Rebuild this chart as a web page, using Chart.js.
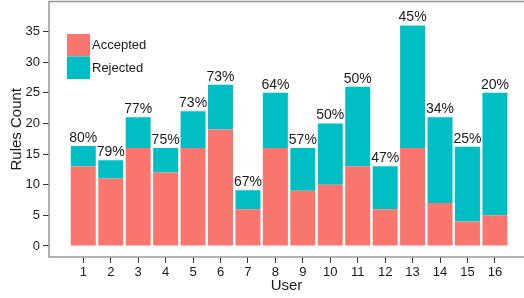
<!DOCTYPE html>
<html>
<head>
<meta charset="utf-8">
<script src="https://cdn.jsdelivr.net/npm/chart.js@4"></script>
<style>
  html, body { margin: 0; padding: 0; background: #fff; }
  #wrap { width: 524px; height: 298px; }
</style>
</head>
<body>
<div id="wrap"><canvas id="rulesChart"></canvas></div>
<script>
const users = [1, 2, 3, 4, 5, 6, 7, 8, 9, 10, 11, 12, 13, 14, 15, 16];
const accepted = [13, 11, 16, 12, 16, 19, 6, 16, 9, 10, 13, 6, 16, 7, 4, 5];
const rejected = [3.3, 3, 5, 4, 6, 7.3, 3.1, 9, 7, 10, 13, 7, 20, 14, 12.2, 20];
const pctLabels = ["80%", "79%", "77%", "75%", "73%", "73%", "67%", "64%", "57%", "50%", "50%", "47%", "45%", "34%", "25%", "20%"];
const yTicks = [0, 5, 10, 15, 20, 25, 30, 35];

const FONT = "'Liberation Sans', Arial, sans-serif";
const TEXT = "#1a1a1a";

// panel border + legend inside the panel + percent labels on top of bars
const decorations = {
  id: "decorations",
  afterDatasetsDraw(chart) {
    const ctx = chart.ctx;
    const a = chart.chartArea;
    ctx.save();

    // percent labels
    const top = chart.getDatasetMeta(1).data;
    ctx.font = "14px " + FONT;
    ctx.fillStyle = TEXT;
    ctx.textAlign = "center";
    ctx.textBaseline = "alphabetic";
    top.forEach((bar, i) => {
      ctx.fillText(pctLabels[i], bar.x, bar.y - 4);
    });

    // legend
    ctx.textAlign = "left";
    ctx.textBaseline = "middle";
    ctx.font = "13px " + FONT;
    chart.data.datasets.forEach((ds, i) => {
      const y = 34 + i * 22.5;
      ctx.fillStyle = ds.backgroundColor;
      ctx.fillRect(67, y, 23, 22.5);
      ctx.fillStyle = TEXT;
      ctx.fillText(ds.label, 92, y + 11.5);
    });

    // border
    ctx.strokeStyle = "#999";
    ctx.lineWidth = 1.5;
    ctx.beginPath();
    ctx.moveTo(a.right, a.top);
    ctx.lineTo(a.left, a.top);
    ctx.lineTo(a.left, a.bottom);
    ctx.lineTo(a.right, a.bottom);
    ctx.stroke();
    ctx.restore();
  }
};

const noPad = s => {
  s.paddingTop = 0; s.paddingBottom = 0; s.paddingLeft = 0; s.paddingRight = 0;
};

new Chart(document.getElementById("rulesChart"), {
  type: "bar",
  data: {
    datasets: [{
      label: "Accepted",
      data: users.map((u, i) => ({ x: u, y: accepted[i] })),
      backgroundColor: "#F8766D"
    }, {
      label: "Rejected",
      data: users.map((u, i) => ({ x: u, y: rejected[i] })),
      backgroundColor: "#00BFC4"
    }]
  },
  options: {
    responsive: true,
    maintainAspectRatio: false,
    animation: false,
    layout: { padding: { top: 1.5, right: 0, left: 0, bottom: 0 } },
    datasets: { bar: { barPercentage: 0.91, categoryPercentage: 1 } },
    plugins: { legend: { display: false }, tooltip: { enabled: false } },
    scales: {
      x: {
        type: "linear",
        stacked: true,
        offset: false,
        min: -0.25,
        max: 17.06,
        afterBuildTicks: s => { s.ticks = users.map(v => ({ value: v })); },
        afterFit: s => { s.height = 41; noPad(s); },
        grid: { offset: false, drawOnChartArea: false, tickLength: 6, color: "#333", lineWidth: 1 },
        border: { display: false },
        ticks: { color: TEXT, font: { family: FONT, size: 13 }, padding: 2, maxRotation: 0, autoSkip: false },
        title: { display: true, text: "User", color: TEXT, font: { family: FONT, size: 15 }, padding: { top: 0, bottom: 3 } }
      },
      y: {
        stacked: true,
        min: -1.8,
        max: 39.9,
        afterBuildTicks: s => { s.ticks = yTicks.map(v => ({ value: v })); },
        afterFit: s => { s.width = 49; noPad(s); },
        grid: { drawOnChartArea: false, tickLength: 6, color: "#333", lineWidth: 1 },
        border: { display: false },
        ticks: { color: TEXT, font: { family: FONT, size: 13 }, padding: 3 },
        title: { display: true, text: "Rules Count", color: TEXT, font: { family: FONT, size: 15 }, padding: { top: 8, bottom: 0 } }
      }
    }
  },
  plugins: [decorations]
});
</script>
</body>
</html>
